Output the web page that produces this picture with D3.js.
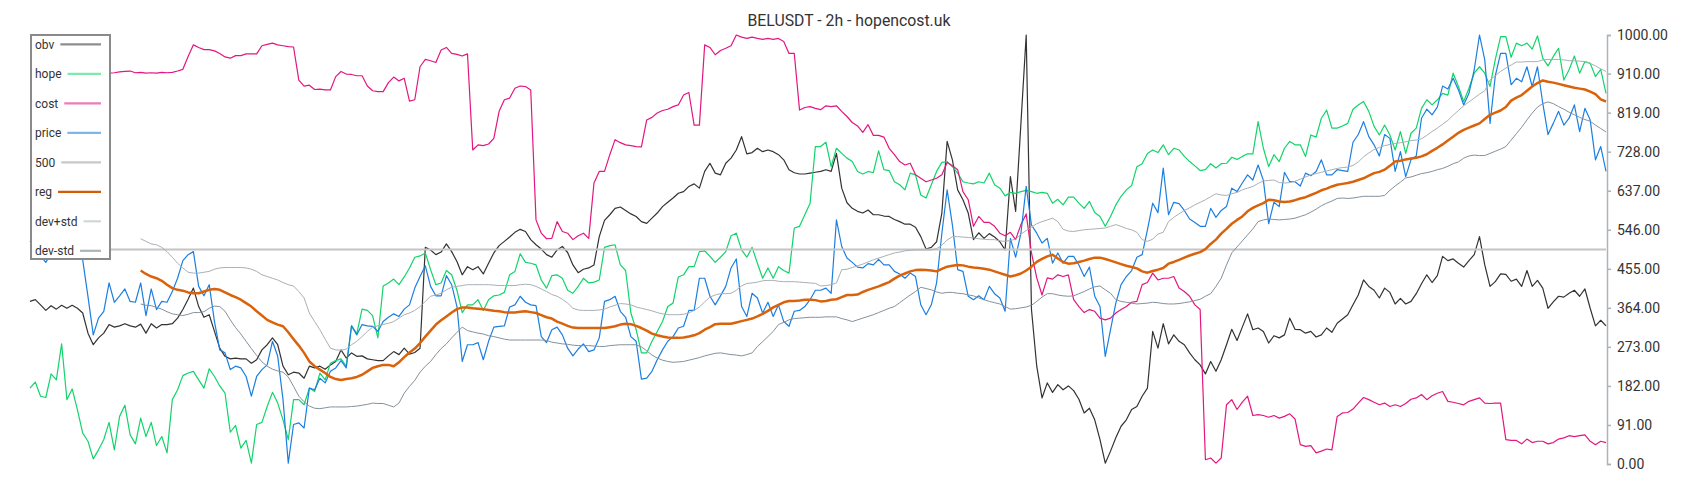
<!DOCTYPE html>
<html>
<head>
<meta charset="utf-8">
<script src="https://cdn.jsdelivr.net/npm/d3@7"></script>
<style>
  html, body { margin: 0; padding: 0; background: #fff; }
  svg { display: block; font-family: Roboto, "Noto Sans", sans-serif; }
</style>
</head>
<body>
<svg id="chart" width="1700" height="500"></svg>
<script>
const title = "BELUSDT - 2h - hopencost.uk";
const yTicks = [0, 91, 182, 273, 364, 455, 546, 637, 728, 819, 910, 1000];

const obv = [379,383,371,358,369,361,370,363,370,363,352,305,278,294,305,325,319,322,327,322,319,326,305,327,317,325,325,327,340,360,384,410,367,342,348,309,270,251,245,247,245,245,235,243,266,278,294,278,
228,208,214,212,200,228,224,228,221,231,239,266,247,259,251,252,245,243,241,241,252,262,255,270,256,260,270,505,499,488,494,513,495,472,441,460,453,460,443,468,492,509,519,529,540,547,542,523,511,501,488,
482,499,507,493,464,446,454,457,464,530,568,581,596,599,591,583,577,565,561,573,585,600,610,620,631,635,647,653,643,682,701,678,674,701,713,732,763,723,726,736,728,732,728,721,709,686,679,676,676,
678,680,682,686,682,724,643,609,596,589,585,592,581,581,578,577,570,565,559,559,552,530,501,505,518,585,752,709,639,616,585,523,539,526,537,529,518,499,670,589,794,1000,360,228,154,189,167,185,173,182,171,151,119,
130,103,57,2,30,61,88,103,127,134,158,177,309,270,327,280,301,286,278,259,243,231,210,239,216,243,278,314,288,319,350,313,317,309,282,299,294,301,340,314,313,305,309,296,301,317,307,328,
338,
348,371,394,429,414,405,387,410,400,373,386,373,379,397,420,441,423,439,484,474,478,468,459,474,488,530,464,414,425,443,442,426,431,414,451,414,428,410,363,378,391,389,398,405,391,408,363,322,335,322];

const hope = [177,191,158,155,210,196,280,150,175,126,72,53,12,33,57,97,33,111,137,68,47,107,64,97,43,64,26,150,173,206,212,216,196,177,222,204,182,165,74,90,37,55,2,92,97,134,167,142,
103,57,150,150,138,177,169,212,196,235,241,245,228,322,304,361,358,346,294,415,422,431,418,436,457,482,485,492,453,418,422,451,441,405,353,371,371,383,358,383,392,394,400,441,449,490,470,468,464,429,410,
439,441,433,405,398,414,433,422,424,429,505,509,511,464,451,352,313,259,259,286,309,332,367,375,436,441,460,460,495,497,484,470,482,495,532,538,499,482,505,468,433,457,433,460,451,445,550,554,581,608,740,
740,750,693,736,724,713,705,682,676,682,679,730,686,684,658,651,639,678,674,627,620,651,682,703,705,693,678,658,655,653,658,655,678,651,643,625,633,631,635,638,635,631,633,631,608,617,604,622,622,608,596,
612,586,577,554,577,604,624,639,649,693,700,724,732,726,744,721,736,732,717,705,695,684,686,700,690,700,701,715,710,717,723,723,798,736,693,721,705,736,752,744,744,717,767,762,806,825,783,783,
788,
794,827,837,845,822,787,767,790,767,732,775,724,771,783,829,849,837,849,864,860,911,880,845,876,911,926,911,880,943,996,996,948,981,975,981,967,998,946,928,950,969,895,919,951,911,938,934,903,920,864];

const cost = [905,908,906,910,907,905,909,906,908,910,907,909,911,908,910,
911,912,914,915,916,912,913,911,912,911,913,912,913,916,920,950,977,971,966,966,963,957,949,946,952,952,956,956,956,975,978,981,977,975,973,972,
895,881,883,873,874,872,872,903,915,909,908,905,905,881,870,868,868,889,902,893,899,846,849,926,943,940,936,965,971,957,955,951,956,732,744,742,746,759,822,849,853,876,881,880,872,569,538,525,
526,565,542,538,523,532,538,526,655,682,682,721,756,749,744,742,740,739,802,808,818,824,827,833,837,860,866,790,790,977,971,954,964,969,975,1000,995,992,995,992,990,992,990,992,985,957,957,825,831,833,829,
826,835,833,835,822,810,796,788,773,791,766,766,762,736,721,705,697,701,674,666,658,662,666,674,703,695,686,635,616,554,577,563,563,554,538,532,540,523,558,583,492,434,394,434,431,441,437,441,383,367,353,
360,356,340,336,340,352,360,367,377,379,418,423,445,429,433,433,437,410,402,391,371,360,10,14,2,14,138,150,127,144,158,113,115,113,109,113,107,111,117,105,45,41,43,26,30,35,33,111,
119,
120,128,142,155,150,144,138,142,134,138,134,141,151,154,162,150,159,165,169,146,144,141,138,146,150,154,142,141,142,142,57,55,55,47,58,50,53,53,47,50,58,61,66,64,66,68,53,45,53,50];

const price = [520,500,485,470,490,510,530,515,525,505,
476,390,301,340,356,422,377,392,408,379,377,422,346,408,360,379,377,402,433,474,488,495,414,392,418,332,266,259,220,228,224,204,158,204,220,231,286,251,
150,2,92,96,84,177,173,200,189,216,224,241,224,322,301,325,322,321,309,332,342,350,344,361,371,410,437,462,414,392,392,439,418,367,239,278,278,283,243,286,319,321,322,366,371,391,377,371,369,297,283,
313,319,301,270,252,268,280,262,266,294,379,383,391,356,342,297,286,198,200,216,243,266,286,297,317,321,358,358,433,433,391,371,392,414,457,478,367,344,398,387,352,377,344,371,332,321,356,358,367,383,405,
405,410,398,569,507,480,470,459,457,467,464,477,464,464,449,443,433,445,437,371,348,371,422,538,639,557,453,449,391,383,392,383,414,397,387,356,526,482,538,647,557,538,515,526,468,492,468,484,484,464,437,
459,391,367,251,313,375,418,437,451,482,488,546,608,586,690,581,610,607,591,571,563,554,554,596,575,591,600,643,635,655,674,662,697,661,560,610,600,680,658,658,648,678,672,682,709,674,674,686,
684,
682,750,768,798,763,744,718,768,759,682,728,670,709,718,806,827,814,832,881,874,899,872,837,864,919,1000,942,794,905,957,957,884,899,891,926,880,926,841,768,794,822,790,806,837,775,829,802,709,740,682];

const level500 = price.map(() => 500);

const N0 = Array(21).fill(null);
const reg = N0.concat([451,443,437,433,427,418,410,406,404,400,398,398,402,406,408,406,400,394,389,383,375,367,356,346,336,330,325,
321,307,291,276,259,239,228,220,212,203,198,196,198,200,203,208,216,224,228,231,231,228,237,249,260,269,282,297,311,325,335,344,353,361,365,365,363,362,361,359,357,356,354,353,353,355,356,354,352,347,342,
339,332,327,322,318,317,317,317,317,317,317,319,321,325,327,326,322,317,311,304,300,297,295,294,294,295,297,300,305,313,319,326,327,327,327,330,333,336,339,344,350,357,365,371,377,380,380,381,383,383,382,
379,380,383,384,389,394,394,395,401,406,410,414,419,424,432,439,444,449,452,453,452,451,449,455,460,462,464,463,460,458,457,455,453,449,445,441,437,440,444,451,460,471,478,484,488,479,471,467,468,471,474,
478,481,481,478,474,470,466,462,459,456,449,446,450,453,457,467,471,476,481,486,490,494,501,513,523,537,548,560,569,577,589,597,603,608,616,615,612,611,612,615,619,622,627,632,638,642,647,651,
653,
655,658,662,666,672,678,681,686,695,705,707,710,712,714,717,722,730,737,745,754,763,772,779,784,789,794,804,814,819,824,832,847,854,860,870,880,888,894,891,889,886,883,880,877,875,873,868,862,850,845]);

const devPlus = N0.concat([525,519,513,511,505,495,482,468,457,447,445,445,447,449,454,457,458,458,458,458,457,454,449,441,437,433,429,
423,418,415,402,387,352,332,313,291,270,266,265,268,278,286,297,309,319,322,325,328,332,340,348,352,358,367,379,391,394,398,406,412,414,416,418,418,418,418,418,417,416,416,416,416,418,419,418,414,408,402,
395,391,384,375,363,359,358,358,358,359,361,366,370,374,373,371,366,363,360,357,353,350,348,348,348,349,352,358,366,378,389,394,397,397,398,405,415,421,422,424,427,428,428,426,425,425,425,424,423,422,421,
415,416,418,422,453,454,458,462,466,471,476,480,484,488,492,494,497,498,499,499,499,499,502,510,522,530,530,529,528,527,525,524,523,523,520,519,521,524,536,544,552,560,565,569,573,565,547,543,542,544,546,
547,548,549,550,554,558,554,549,546,540,523,519,524,536,540,565,575,583,591,597,604,610,616,623,630,627,626,630,633,639,643,647,654,660,661,662,656,655,656,659,664,669,674,677,680,683,686,689,
691,
692,696,704,716,725,733,738,742,745,747,749,751,754,755,758,766,775,783,792,801,813,824,835,844,853,862,870,895,905,915,923,930,937,937,938,938,938,942,943,943,943,942,940,940,939,938,934,928,921,915]);

const devMinus = N0.concat([373,370,369,365,361,355,350,348,346,349,353,353,355,363,368,367,356,336,318,303,286,269,253,238,228,221,217,
214,203,181,158,145,135,130,129,131,133,133,133,133,134,135,137,139,142,141,141,137,133,142,165,181,195,214,228,239,255,269,280,294,307,319,311,308,305,303,299,297,294,291,289,289,289,289,289,289,289,288,
284,282,280,279,277,276,276,276,275,274,274,276,277,278,278,278,278,273,264,254,247,242,239,237,238,239,242,245,248,252,255,258,259,257,255,254,252,255,259,274,285,297,309,325,330,336,339,340,341,342,342,
342,343,343,343,339,336,332,336,340,344,348,353,358,363,367,376,385,394,402,412,409,406,401,398,400,400,398,397,394,392,387,383,379,376,373,367,361,362,364,366,370,379,389,397,397,394,392,391,392,397,402,
408,413,415,406,398,383,379,377,375,373,374,375,377,376,374,373,373,374,376,378,381,384,391,397,414,433,464,492,506,520,534,548,565,569,571,570,569,570,571,573,577,581,587,594,602,608,613,619,
620,
619,620,622,624,624,624,624,626,638,648,657,667,669,673,677,679,682,686,689,694,700,704,713,718,720,719,719,724,729,734,740,755,770,785,802,818,832,840,844,840,833,827,820,814,808,803,799,790,782,774]);

const series = [
  { name: "obv",     data: obv,      color: "#333333", width: 1.2, legend: "#8e8e8e" },
  { name: "hope",    data: hope,     color: "#12d46a", width: 1.2, legend: "#7fe9ac" },
  { name: "cost",    data: cost,     color: "#e2177f", width: 1.2, legend: "#ec7cba" },
  { name: "price",   data: price,    color: "#1c7fe0", width: 1.2, legend: "#7ab7ea" },
  { name: "500",     data: level500, color: "#c4c4c4", width: 2,   legend: "#c8c8c8" },
  { name: "reg",     data: reg,      color: "#d9620a", width: 2.5, legend: "#d05c06" },
  { name: "dev+std", data: devPlus,  color: "#a9b0b6", width: 1,   legend: "#d0d6da" },
  { name: "dev-std", data: devMinus, color: "#84919b", width: 1,   legend: "#a9b4bb" }
];

const svg = d3.select("#chart");
const x = d3.scaleLinear().domain([0, obv.length - 1]).range([30, 1606]);
const y = d3.scaleLinear().domain([0, 1000]).range([464, 35]);

svg.append("text")
  .attr("x", 849).attr("y", 25.5)
  .attr("text-anchor", "middle")
  .attr("font-size", 15.8).attr("fill", "#333")
  .text(title);

const gLines = svg.append("g");
series.forEach(s => {
  const line = d3.line()
    .defined(d => d !== null && d !== undefined)
    .x((d, i) => x(i)).y(d => y(d));
  gLines.append("path")
    .datum(s.data)
    .attr("fill", "none")
    .attr("stroke", s.color)
    .attr("stroke-width", s.width)
    .attr("stroke-linejoin", "round")
    .attr("d", line);
});

const axis = d3.axisRight(y)
  .tickValues(yTicks)
  .tickFormat(d3.format(".2f"))
  .tickSizeInner(4).tickSizeOuter(4).tickPadding(6);
const gAxis = svg.append("g").attr("transform", "translate(1607,0)").call(axis);
gAxis.select(".domain").attr("stroke", "#aab3bb").attr("stroke-width", 1.5);
gAxis.selectAll(".tick line").attr("stroke", "#aab3bb").attr("stroke-width", 1.5);
gAxis.selectAll(".tick text")
  .attr("font-family", "Roboto, 'Noto Sans', sans-serif")
  .attr("font-size", 14).attr("fill", "#333");

// legend
const lg = svg.append("g");
lg.append("rect")
  .attr("x", 31).attr("y", 35).attr("width", 79).attr("height", 224)
  .attr("fill", "#fff").attr("stroke", "#8a8a8a").attr("stroke-width", 2);
series.forEach((s, k) => {
  const cy = 44.3 + 29.5 * k;
  const t = lg.append("text")
    .attr("x", 35).attr("y", cy + 4.3)
    .attr("font-size", 12).attr("fill", "#333")
    .text(s.name);
  const w = t.node().getComputedTextLength();
  lg.append("line")
    .attr("x1", 35 + w + 6).attr("x2", 101)
    .attr("y1", cy).attr("y2", cy)
    .attr("stroke", s.legend).attr("stroke-width", 2.2);
});
</script>
</body>
</html>
